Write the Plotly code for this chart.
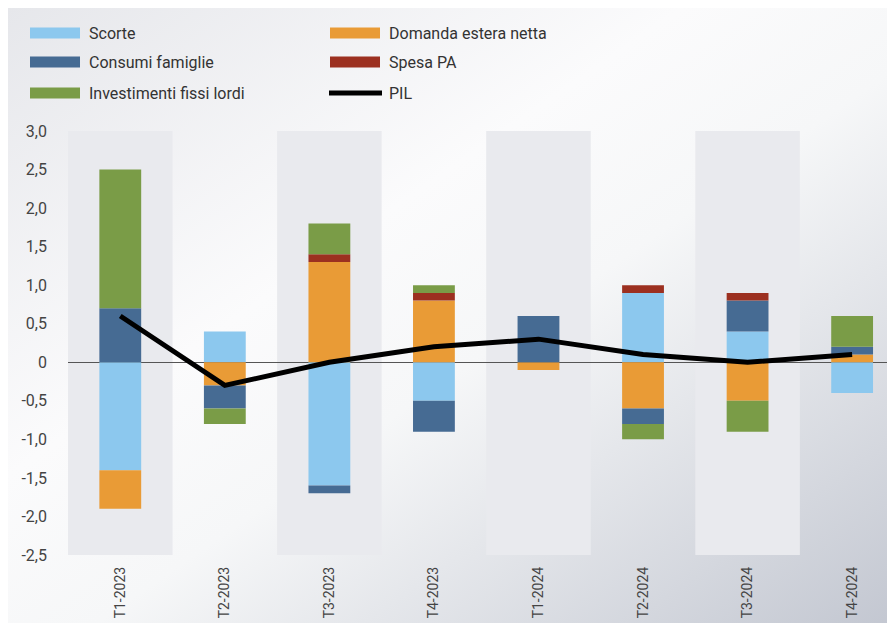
import base64
import plotly.graph_objects as go

# dati
trimestri = ["T1-2023", "T2-2023", "T3-2023", "T4-2023", "T1-2024", "T2-2024", "T3-2024", "T4-2024"]
scorte = [-1.4, 0.4, -1.6, -0.5, 0, 0.9, 0.4, -0.4]
domanda_estera = [-0.5, -0.3, 1.3, 0.8, -0.1, -0.6, -0.5, 0.1]
consumi = [0.7, -0.3, -0.1, -0.4, 0.6, -0.2, 0.4, 0.1]
spesa_pa = [0, 0, 0.1, 0.1, 0, 0.1, 0.1, 0]
investimenti = [1.8, -0.2, 0.4, 0.1, 0, -0.2, -0.4, 0.4]
pil = [0.6, -0.3, 0, 0.2, 0.3, 0.1, 0, 0.1]

y_tickvals = [-2.5, -2.0, -1.5, -1.0, -0.5, 0, 0.5, 1.0, 1.5, 2.0, 2.5, 3.0]
y_ticktext = ["-2,5", "-2,0", "-1,5", "-1,0", "-0,5", "0", "0,5", "1,0", "1,5", "2,0", "2,5", "3,0"]

serie = [
    ("Scorte", scorte, "#8cc8ee"),
    ("Domanda estera netta", domanda_estera, "#e99b36"),
    ("Consumi famiglie", consumi, "#466b93"),
    ("Spesa PA", spesa_pa, "#9c3020"),
    ("Investimenti fissi lordi", investimenti, "#7a9c47"),
]

# la pagina ha 8px di margine: la figura occupa il resto della finestra
W, H = 887, 615
L, R, T, B = 60, 0, 123, 68
PW, PH = W - L - R, H - T - B
FONT = "Roboto, Open Sans, sans-serif"


def px_x(px):
    return (px - L) / PW


def px_y(py):
    return (H - B - py) / PH


fig = go.Figure()

for nome, valori, colore in serie:
    fig.add_trace(go.Bar(
        x=trimestri, y=[v if v != 0 else None for v in valori],
        name=nome, marker=dict(color=colore, line=dict(width=0)),
        width=0.4, showlegend=False
    ))

fig.add_trace(go.Scatter(
    x=trimestri, y=pil, mode="lines", name="PIL",
    line=dict(color="black", width=5), showlegend=False
))

# fasce grigie alternate
shapes = []
for i in range(0, len(trimestri), 2):
    shapes.append(dict(type="rect", xref="x", yref="y", x0=i - 0.5, x1=i + 0.5,
                       y0=-2.5, y1=3.0, fillcolor="#e9eaee", line=dict(width=0), layer="below"))

# legenda disegnata a mano (due colonne)
legend_items = [(n, c, "bar") for n, _, c in serie] + [("PIL", "black", "line")]
col_x = [22, 322]
row_y = [25, 54, 85]
annotations = []
for k, (nome, colore, tipo) in enumerate(legend_items):
    cx = col_x[k % 2]
    ry = row_y[k // 2]
    if tipo == "bar":
        shapes.append(dict(type="rect", xref="paper", yref="paper",
                           x0=px_x(cx), x1=px_x(cx + 50), y0=px_y(ry + 5.5), y1=px_y(ry - 5.5),
                           fillcolor=colore, line=dict(width=0)))
    else:
        shapes.append(dict(type="line", xref="paper", yref="paper",
                           x0=px_x(cx - 1), x1=px_x(cx + 52), y0=px_y(ry), y1=px_y(ry),
                           line=dict(color=colore, width=5)))
    annotations.append(dict(xref="paper", yref="paper", x=px_x(cx + 57), y=px_y(ry),
                            text=nome, showarrow=False, xanchor="left", yanchor="middle",
                            font=dict(family=FONT, size=16, color="#333333")))

# sfondo sfumato
svg = ('<svg xmlns="http://www.w3.org/2000/svg" width="100" height="100" viewBox="0 0 100 100" '
       'preserveAspectRatio="none"><defs><linearGradient id="g" x1="0" y1="0" x2="1" y2="1">'
       '<stop offset="0" stop-color="#e6e7eb"/><stop offset="0.38" stop-color="#fbfbfc"/>'
       '<stop offset="0.55" stop-color="#f6f7f8"/><stop offset="1" stop-color="#c3c7d1"/>'
       '</linearGradient></defs><rect width="100" height="100" fill="url(#g)"/></svg>')
src = "data:image/svg+xml;base64," + base64.b64encode(svg.encode()).decode()

fig.update_layout(
    width=W, height=H,
    margin=dict(l=L, r=R, t=T, b=B),
    barmode="relative",
    paper_bgcolor="white",
    plot_bgcolor="rgba(0,0,0,0)",
    showlegend=False,
    shapes=shapes,
    annotations=annotations,
    images=[dict(source=src, xref="paper", yref="paper", x=px_x(0), y=px_y(0),
                 sizex=W / PW, sizey=H / PH, xanchor="left", yanchor="top",
                 sizing="stretch", layer="below")],
    xaxis=dict(
        range=[-0.5, 7.41], showgrid=False, zeroline=False, showline=False,
        tickangle=-90, tickfont=dict(family=FONT, size=14, color="#444444"),
        ticks="", ticklabelstandoff=8, automargin=False
    ),
    yaxis=dict(
        range=[-2.5, 3.0], showgrid=False, zeroline=True, zerolinecolor="#555555",
        zerolinewidth=1, showline=False, tickvals=y_tickvals, ticktext=y_ticktext,
        tickfont=dict(family=FONT, size=16, color="#444444"),
        ticks="", ticklabelstandoff=20, automargin=False
    ),
)

fig.write_html("out.html")
